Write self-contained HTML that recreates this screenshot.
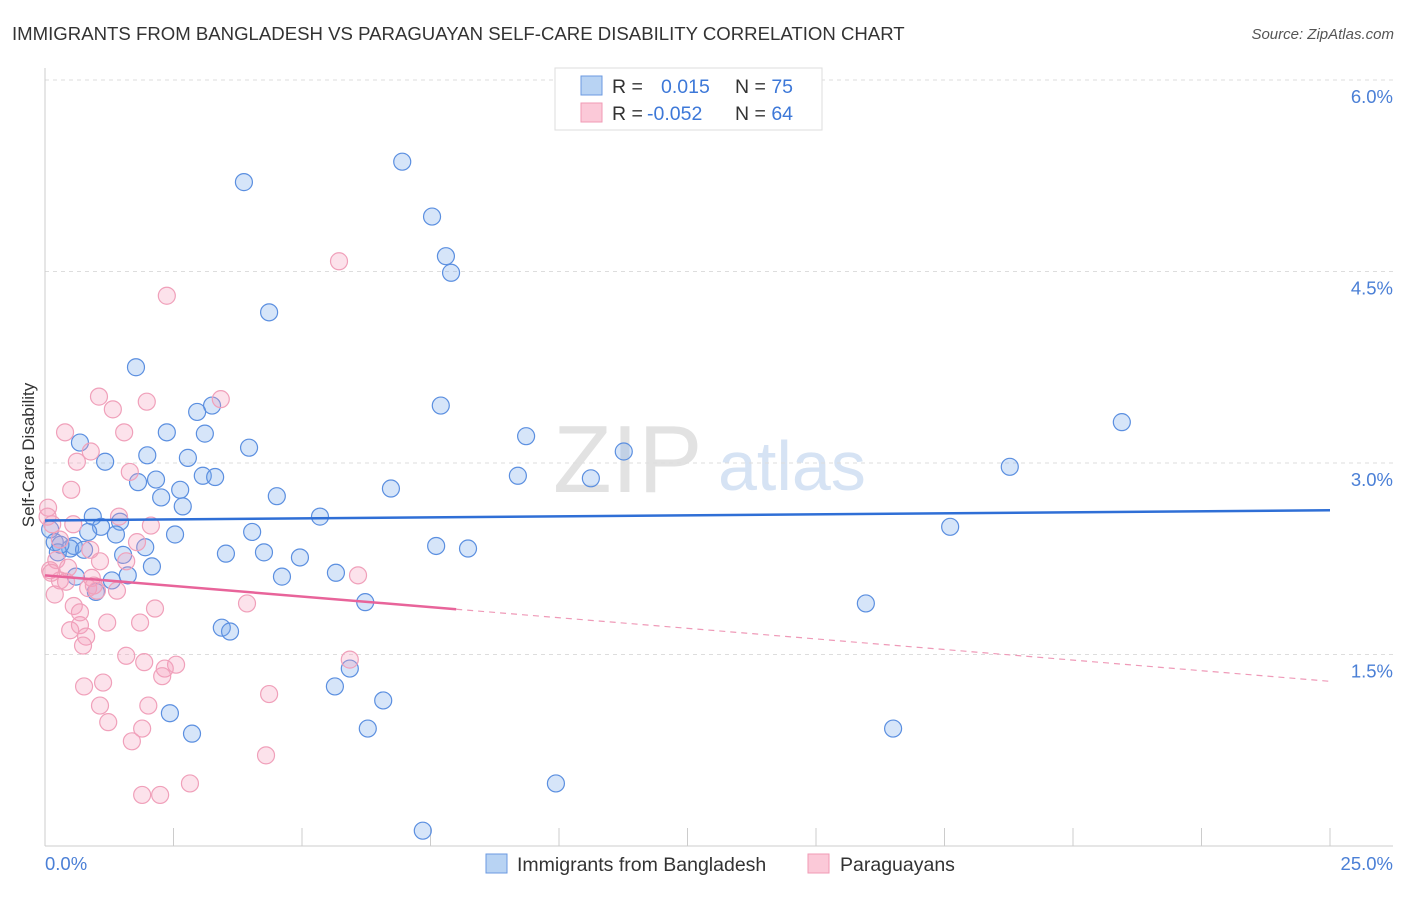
<!DOCTYPE html>
<html><head><meta charset="utf-8"><style>
body{margin:0;background:#fff;font-family:"Liberation Sans",sans-serif;}
svg text{font-family:"Liberation Sans",sans-serif;}
</style></head><body>
<svg width="1406" height="892" xmlns="http://www.w3.org/2000/svg">
<text x="12" y="40" font-size="18.6" fill="#333">IMMIGRANTS FROM BANGLADESH VS PARAGUAYAN SELF-CARE DISABILITY CORRELATION CHART</text>
<text x="1394" y="39" font-size="15" fill="#555" font-style="italic" text-anchor="end">Source: ZipAtlas.com</text>
<g>
<text x="553" y="492" font-size="96" font-family="Liberation Serif" fill="#e2e2e2">ZIP</text>
<text x="718" y="490" font-size="70" fill="#d6e3f4">atlas</text>
</g>
<g id="grid"></g>
<g id="axes"></g>
<g id="pts"></g>
<g id="trend"></g>
<text transform="translate(34,455) rotate(-90)" font-size="17" fill="#333" text-anchor="middle">Self-Care Disability</text>
<g>
<rect x="555" y="68" width="267" height="62" fill="#fff" stroke="#ddd"/>
<rect x="581" y="76" width="21" height="19" fill="#b8d3f3" stroke="#6b9ae0"/>
<rect x="581" y="103" width="21" height="19" fill="#fbc9d8" stroke="#f09ab5"/>
<text x="612" y="93" font-size="19.5" fill="#333">R = <tspan fill="#3d78d8" x="661">0.015</tspan><tspan fill="#333" x="735">N = </tspan><tspan fill="#3d78d8">75</tspan></text>
<text x="612" y="120" font-size="19.5" fill="#333">R = <tspan fill="#3d78d8" x="647">-0.052</tspan><tspan fill="#333" x="735">N = </tspan><tspan fill="#3d78d8">64</tspan></text>
</g>
<g>
<rect x="486" y="854" width="21" height="19" fill="#b8d3f3" stroke="#6b9ae0"/>
<text x="517" y="871" font-size="19.5" fill="#333">Immigrants from Bangladesh</text>
<rect x="808" y="854" width="21" height="19" fill="#fbc9d8" stroke="#f09ab5"/>
<text x="840" y="871" font-size="19.5" fill="#333">Paraguayans</text>
</g>
</svg>
<script>
const blueX=[6.95,3.87,7.53,7.80,7.90,4.36,1.77,3.25,2.96,7.70,20.95,2.37,3.11,9.36,0.68,3.97,11.26,1.99,2.78,1.17,18.77,3.07,3.31,9.20,10.62,2.16,1.81,2.63,6.73,2.26,4.51,2.68,0.93,5.35,1.46,1.09,17.61,1.38,2.53,4.03,0.84,0.10,0.19,0.56,0.49,1.95,0.76,7.61,8.23,1.52,3.52,4.26,4.96,0.25,2.08,1.61,5.66,4.61,0.60,1.30,0.99,6.23,15.97,3.44,3.60,5.93,5.64,6.58,2.43,6.28,16.50,2.86,9.94,7.35,0.30];
const blueY=[5.36,5.20,4.93,4.62,4.49,4.18,3.75,3.45,3.40,3.45,3.32,3.24,3.23,3.21,3.16,3.12,3.09,3.06,3.04,3.01,2.97,2.90,2.89,2.90,2.88,2.87,2.85,2.79,2.80,2.73,2.74,2.66,2.58,2.58,2.54,2.50,2.50,2.44,2.44,2.46,2.46,2.48,2.38,2.35,2.33,2.34,2.32,2.35,2.33,2.28,2.29,2.30,2.26,2.30,2.19,2.12,2.14,2.11,2.11,2.08,1.99,1.91,1.90,1.71,1.68,1.39,1.25,1.14,1.04,0.92,0.92,0.88,0.49,0.12,2.36];
const pinkX=[5.72,2.37,1.05,1.32,1.98,3.42,0.39,1.54,0.89,0.62,1.65,0.51,0.06,1.44,2.06,0.55,0.14,1.79,0.88,0.22,1.07,1.58,0.45,0.10,6.09,0.91,0.29,0.41,0.19,0.84,1.01,0.56,2.14,3.93,0.68,1.21,1.85,0.49,0.68,0.80,0.74,1.58,1.93,2.55,2.33,5.93,2.28,0.76,1.13,4.36,1.07,2.01,1.23,1.89,1.69,4.30,2.82,1.89,2.24,0.29,0.05,0.12,0.95,1.40];
const pinkY=[4.58,4.31,3.52,3.42,3.48,3.50,3.24,3.24,3.09,3.01,2.93,2.79,2.65,2.58,2.51,2.52,2.52,2.38,2.32,2.24,2.23,2.23,2.18,2.16,2.12,2.10,2.08,2.07,1.97,2.02,2.00,1.88,1.86,1.90,1.83,1.75,1.75,1.69,1.73,1.64,1.57,1.49,1.44,1.42,1.39,1.46,1.33,1.25,1.28,1.19,1.10,1.10,0.97,0.92,0.82,0.71,0.49,0.40,0.40,2.40,2.58,2.14,2.04,2.00];
const blueTrend=[2.55,2.63];
const pinkTrend=[2.12,1.29];
const pinkSolidEnd=8.0;
const yTicks=[1.5,3.0,4.5,6.0];
const xTicks=[0,2.5,5,7.5,10,12.5,15,17.5,20,22.5,25];
const NS="http://www.w3.org/2000/svg";
const sx=v=>45+v*51.4, sy=v=>846-v*127.67;
function mk(p,t,a){const e=document.createElementNS(NS,t);for(const k in a)e.setAttribute(k,a[k]);p.appendChild(e);return e;}
const grid=document.getElementById('grid'),axes=document.getElementById('axes'),pts=document.getElementById('pts'),trend=document.getElementById('trend');
yTicks.forEach(t=>{
 const l=mk(grid,'line',{x1:45,x2:1393,y1:sy(t),y2:sy(t),stroke:'#ddd','stroke-dasharray':'4,4'});
 
 
 const tx=mk(grid,'text',{x:1393,y:sy(t)+23,'font-size':18.5,fill:'#4a7fd6','text-anchor':'end'});
 tx.textContent=t.toFixed(1)+'%';
 
 
});
const al=mk(axes,'line',{x1:45,x2:45,y1:68,y2:846,stroke:'#ccc'});


const bl=mk(axes,'line',{x1:45,x2:1393,y1:846,y2:846,stroke:'#ccc'});


xTicks.forEach(t=>{
 const l=mk(axes,'line',{x1:sx(t),x2:sx(t),y1:828,y2:846,stroke:'#ccc'});
 
 
});
[[0,'start'],[25,'end']].forEach(([t,a])=>{
 const tx=mk(axes,'text',{x:a=='start'?45:1393,y:870,'font-size':18.5,fill:'#4a7fd6','text-anchor':a});
 tx.textContent=t.toFixed(1)+'%';
 
 
});
blueX.forEach((x,i)=>{
 const c=mk(pts,'circle',{cx:sx(x),cy:sy(blueY[i]),r:8.5,fill:'rgba(120,170,235,0.3)',stroke:'#5b8fe0','stroke-width':1.2});
 
 
});
pinkX.forEach((x,i)=>{
 const c=mk(pts,'circle',{cx:sx(x),cy:sy(pinkY[i]),r:8.5,fill:'rgba(245,160,190,0.3)',stroke:'#f0a0ba','stroke-width':1.2});
 
 
});
const b=mk(trend,'line',{x1:sx(0),x2:sx(25),y1:sy(blueTrend[0]),y2:sy(blueTrend[1]),stroke:'#2f6fd6','stroke-width':2.5});


const pm=v=>pinkTrend[0]+(pinkTrend[1]-pinkTrend[0])*v/25;
const p1=mk(trend,'line',{x1:sx(0),x2:sx(pinkSolidEnd),y1:sy(pm(0)),y2:sy(pm(pinkSolidEnd)),stroke:'#e8649a','stroke-width':2.5});


const p2=mk(trend,'line',{x1:sx(pinkSolidEnd),x2:sx(25),y1:sy(pm(pinkSolidEnd)),y2:sy(pm(25)),stroke:'#ef9ab8','stroke-width':1.2,'stroke-dasharray':'6,5'});


</script>
</body></html>
